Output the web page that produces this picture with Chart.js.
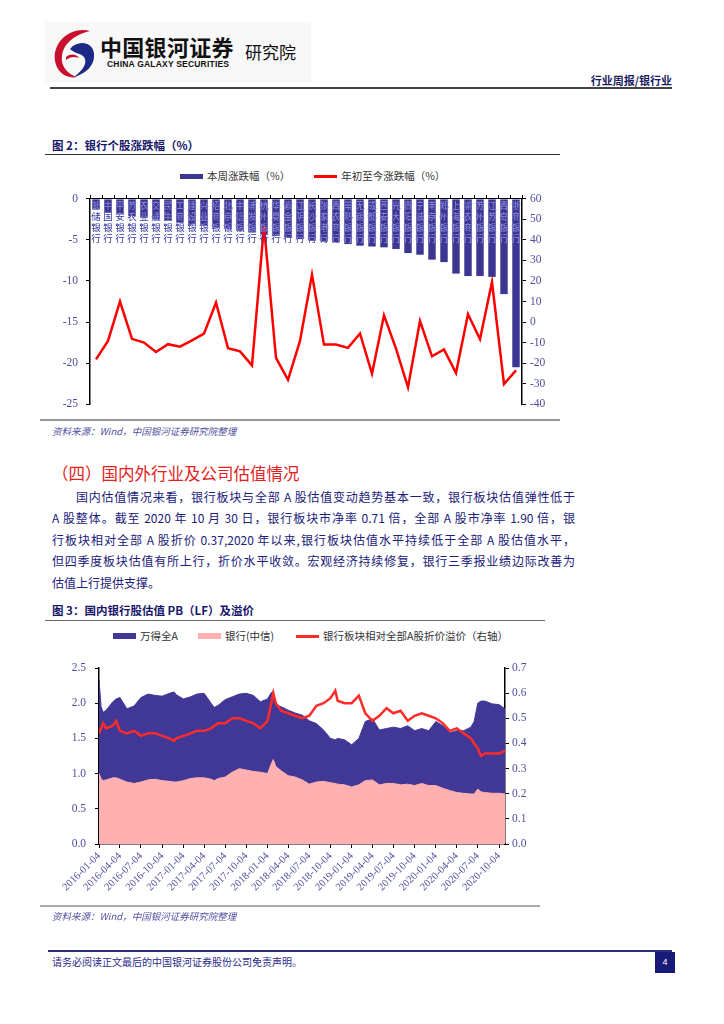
<!DOCTYPE html>
<html>
<head>
<meta charset="utf-8">
<script src="https://cdn.jsdelivr.net/npm/chart.js@4.4.0/dist/chart.umd.min.js"></script>
<style>
  body { margin: 0; width: 724px; height: 1024px; position: relative; background: #fff; overflow: hidden;
         font-family: "Noto Sans CJK SC", sans-serif; }
  .abs { position: absolute; white-space: nowrap; }
  .rule { position: absolute; height: 0; }
  .figtitle { font-size: 11.5px; font-weight: bold; color: #16166a; line-height: 14px; }
  .source { font-size: 9.5px; font-style: italic; color: #5050a0; line-height: 12px; }
  .legend { position: absolute; display: flex; align-items: center; font-size: 10.5px; color: #333; line-height: 14px; }
  .legend .sw { display: inline-block; width: 23px; margin-right: 4px; }
  .para { position: absolute; left: 52px; width: 523px; font-size: 12px; line-height: 16px; color: #20207a;
          text-align: justify; text-align-last: justify; white-space: nowrap; }
</style>
</head>
<body>

<!-- header -->
<div class="abs" style="left:45px;top:22px;width:266px;height:60px;background:#f8f8f8;"></div>
<svg class="abs" style="left:50px;top:27px" width="48" height="52" viewBox="0 0 48 52">
  <path d="M40 4 C20 -1 2 16 5 34 C7 46 17 52 27 50 C15 46 9 36 13 24 C17 13 28 7 40 4 Z" fill="#c8102e"/>
  <path d="M20 22 C27 13 43 14 44 27 C45 39 35 47 24 50 C33 43 38 36 34 30 C31 26 25 27 20 22 Z" fill="#1b2a86"/>
  <path d="M16 30 C20 26 27 27 29 31 C24 29 20 30 16 33 Z" fill="#c8102e"/>
</svg>
<div class="abs" style="left:100px;top:33px;font-size:22px;font-weight:bold;color:#111;line-height:26px;letter-spacing:0.3px">中国银河证券</div>
<div class="abs" style="left:107px;top:59px;font-size:8.5px;font-weight:bold;color:#111;line-height:10px;font-family:'Liberation Sans',sans-serif;letter-spacing:0.2px">CHINA GALAXY SECURITIES</div>
<div class="abs" style="left:245px;top:42px;font-size:17px;color:#111;line-height:20px">研究院</div>
<div class="abs" style="right:52px;top:73px;font-size:11px;font-weight:bold;color:#1a1a5e;line-height:14px">行业周报/银行业</div>
<div class="rule" style="left:50px;top:87px;width:622px;border-top:2px solid #444"></div>

<!-- figure 2 -->
<div class="abs figtitle" style="left:52px;top:138px">图&nbsp;2：银行个股涨跌幅（%）</div>
<div class="rule" style="left:45px;top:154px;width:515px;border-top:1.5px solid #333"></div>
<div class="legend" style="left:180px;top:169px">
  <span class="sw" style="height:5px;background:#3c3591"></span><span>本周涨跌幅（%）</span>
  <span class="sw" style="height:3px;background:#ff0000;margin-left:24px"></span><span>年初至今涨跌幅（%）</span>
</div>
<canvas id="c1" class="abs" style="left:40px;top:184px" width="520" height="235"></canvas>
<div class="rule" style="left:40px;top:419px;width:520px;border-top:2px solid #999"></div>
<div class="abs source" style="left:52px;top:425px">资料来源：Wind，中国银河证券研究院整理</div>

<!-- text -->
<div class="abs" style="left:52px;top:463px;font-size:16.5px;color:#e42121;line-height:20px">（四）国内外行业及公司估值情况</div>
<div class="para" style="top:489px;left:76px;width:499px">国内估值情况来看，银行板块与全部 A 股估值变动趋势基本一致，银行板块估值弹性低于</div>
<div class="para" style="top:510px">A 股整体。截至 2020 年 10 月 30 日，银行板块市净率 0.71 倍，全部 A 股市净率 1.90 倍，银</div>
<div class="para" style="top:532px">行板块相对全部 A 股折价 0.37,2020 年以来,银行板块估值水平持续低于全部 A 股估值水平，</div>
<div class="para" style="top:553px">但四季度板块估值有所上行，折价水平收敛。宏观经济持续修复，银行三季报业绩边际改善为</div>
<div class="para" style="top:575px;text-align:left;text-align-last:left">估值上行提供支撑。</div>

<!-- figure 3 -->
<div class="abs figtitle" style="left:52px;top:603px">图&nbsp;3：国内银行股估值 PB（LF）及溢价</div>
<div class="rule" style="left:45px;top:620px;width:500px;border-top:1px solid #666"></div>
<div class="legend" style="left:113px;top:629px">
  <span class="sw" style="height:6px;background:#403796"></span><span>万得全A</span>
  <span class="sw" style="height:6px;background:#ffb0b0;margin-left:20px"></span><span>银行(中信)</span>
  <span class="sw" style="height:3px;background:#ff2a2a;margin-left:22px"></span><span>银行板块相对全部A股折价溢价（右轴）</span>
</div>
<canvas id="c2" class="abs" style="left:40px;top:650px" width="505" height="256"></canvas>
<div class="rule" style="left:40px;top:905px;width:500px;border-top:2px solid #aaa"></div>
<div class="abs source" style="left:52px;top:910px">资料来源：Wind，中国银河证券研究院整理</div>

<!-- footer -->
<div class="rule" style="left:48px;top:950px;width:624px;border-top:2px solid #2a2a80"></div>
<div class="abs" style="left:52px;top:955px;font-size:10px;color:#2a2a8a;line-height:14px">请务必阅读正文最后的中国银河证券股份公司免责声明。</div>
<div class="abs" style="left:655px;top:952px;width:20px;height:21px;background:#1a1a78;color:#fff;font-size:9px;line-height:21px;text-align:center;font-family:'Liberation Sans',sans-serif">4</div>

<script>
// ---- 图2 数据 ----
const banks = ['邮储银行', '中国银行', '平安银行', '苏农银行', '农业银行', '交通银行', '民生银行', '工商银行',
    '建设银行', '兴业银行', '招商银行', '北京银行', '中信银行', '浦发银行', '杭州银行', '华夏银行', '紫金银行',
    '江阴银行', '长沙银行', '张家港行', '青农商行', '常熟银行', '无锡银行', '成都银行', '西安银行', '光大银行',
    '贵阳银行', '宁波银行', '南京银行', '郑州银行', '上海银行', '渝农商行', '苏州银行', '江苏银行', '青岛银行', '浙商银行'];
const weekChange = [-1.3, -1.6, -1.9, -2.1, -2.3, -2.5, -2.7, -2.9, -3.1, -3.3, -3.5, -3.7, -3.9, -4.1, -4.3, -4.5,
    -4.7, -4.9, -5.1, -5.2, -5.3, -5.5, -5.7, -5.8, -5.9, -6.1, -6.6, -6.8, -7.4, -7.7, -9.1, -9.4, -9.4, -9.5, -11.6, -20.5];
const ytdChange = [-18.2, -9.2, 10, -8.2, -10, -14.6, -10.8, -12, -8.9, -5.7, 9.5, -12.8, -14.3, -21.1, 46.9, -17.5,
    -28.2, -9.2, 23.1, -11, -11, -12.6, -5.6, -25.2, 3.3, -13, -31.8, 0.5, -16.7, -13.4, -24.9, 3.8, -8.4, 19.5, -30.2, -23.6];

// ---- 图3 数据 ----
const pbDates = ['2016-01-04', '2016-01-13', '2016-01-22', '2016-02-04', '2016-03-04', '2016-03-18', '2016-04-04',
    '2016-05-04', '2016-06-04', '2016-07-04', '2016-08-04', '2016-09-04', '2016-10-04', '2016-11-04', '2016-11-25',
    '2016-12-04', '2017-01-04', '2017-02-04', '2017-03-04', '2017-04-04', '2017-05-04', '2017-05-18', '2017-06-04',
    '2017-07-04', '2017-08-04', '2017-09-04', '2017-10-04', '2017-11-04', '2017-12-04', '2018-01-04', '2018-01-18',
    '2018-01-29', '2018-02-09', '2018-03-04', '2018-04-04', '2018-05-04', '2018-06-04', '2018-07-04', '2018-08-04',
    '2018-09-04', '2018-10-04', '2018-10-25', '2018-11-04', '2018-12-04', '2019-01-04', '2019-02-04', '2019-03-04',
    '2019-04-04', '2019-05-04', '2019-06-04', '2019-07-04', '2019-08-04', '2019-09-04', '2019-10-04', '2019-11-04',
    '2019-12-04', '2020-01-04', '2020-02-04', '2020-03-04', '2020-04-04', '2020-05-04', '2020-06-04', '2020-06-18',
    '2020-07-04', '2020-07-18', '2020-08-04', '2020-09-04', '2020-10-04', '2020-10-30'];
const pbAllA = [2.34, 1.95, 1.87, 1.90, 2.02, 2.06, 2.08, 1.92, 1.96, 2.08, 2.13, 2.11, 2.10, 2.14, 2.16, 2.12,
    2.06, 2.09, 2.13, 2.14, 2.00, 1.94, 1.97, 2.05, 2.09, 2.13, 2.14, 2.11, 2.02, 2.06, 2.14, 2.17, 1.98, 1.95,
    1.90, 1.86, 1.83, 1.75, 1.71, 1.62, 1.50, 1.48, 1.50, 1.48, 1.41, 1.50, 1.74, 1.78, 1.62, 1.64, 1.66, 1.64,
    1.68, 1.61, 1.64, 1.61, 1.74, 1.68, 1.58, 1.61, 1.61, 1.66, 1.74, 2.00, 2.03, 2.03, 1.99, 1.98, 1.92];
const pbBank = [1.00, 0.93, 0.90, 0.91, 0.94, 0.94, 0.92, 0.88, 0.86, 0.88, 0.91, 0.92, 0.90, 0.89, 0.88, 0.88,
    0.90, 0.93, 0.94, 0.94, 0.92, 0.90, 0.93, 0.95, 1.02, 1.07, 1.05, 1.03, 1.02, 1.00, 1.12, 1.20, 1.10, 1.04,
    0.97, 0.95, 0.91, 0.85, 0.88, 0.89, 0.87, 0.86, 0.85, 0.84, 0.81, 0.84, 0.90, 0.91, 0.84, 0.86, 0.86, 0.84,
    0.85, 0.83, 0.86, 0.83, 0.83, 0.79, 0.76, 0.73, 0.72, 0.71, 0.71, 0.78, 0.74, 0.73, 0.72, 0.72, 0.71];
const pbPremium = [0.44, 0.46, 0.48, 0.46, 0.47, 0.49, 0.45, 0.44, 0.45, 0.43, 0.44, 0.44, 0.43, 0.42, 0.41, 0.42,
    0.43, 0.44, 0.45, 0.45, 0.46, 0.47, 0.48, 0.48, 0.50, 0.50, 0.49, 0.48, 0.46, 0.49, 0.55, 0.60, 0.56, 0.53,
    0.52, 0.51, 0.50, 0.51, 0.55, 0.56, 0.58, 0.61, 0.57, 0.56, 0.56, 0.59, 0.52, 0.49, 0.51, 0.54, 0.52, 0.53,
    0.49, 0.51, 0.52, 0.51, 0.50, 0.48, 0.45, 0.46, 0.44, 0.42, 0.40, 0.38, 0.35, 0.36, 0.36, 0.36, 0.37];
const quarterTicks = ['2016-01-04', '2016-04-04', '2016-07-04', '2016-10-04', '2017-01-04', '2017-04-04', '2017-07-04',
    '2017-10-04', '2018-01-04', '2018-04-04', '2018-07-04', '2018-10-04', '2019-01-04', '2019-04-04', '2019-07-04',
    '2019-10-04', '2020-01-04', '2020-04-04', '2020-07-04', '2020-10-04'];
const lastDate = '2020-10-30';

const tickColor = '#4d4d9e';
const numFont = { family: 'Liberation Serif', size: 11.5 };
const dayOf = d => (Date.parse(d) - Date.parse(pbDates[0])) / 86400000;

// vertical bank names, lighter where they sit on top of a bar
const barNames = {
    id: 'barNames',
    afterDatasetsDraw(chart) {
        const ctx = chart.ctx;
        const bars = chart.getDatasetMeta(1).data;
        const y0 = chart.scales.y.getPixelForValue(0) + 2;
        const drawName = (name, x) => [...name].forEach((ch, k) => ctx.fillText(ch, x, y0 + k * 10.8));
        ctx.save();
        ctx.font = '9.5px "Noto Sans CJK SC"';
        ctx.textAlign = 'center';
        ctx.textBaseline = 'top';
        banks.forEach((name, i) => {
            const bar = bars[i];
            ctx.fillStyle = '#3434a2';
            drawName(name, bar.x);
            ctx.save();
            ctx.beginPath();
            ctx.rect(bar.x - bar.width / 2, bar.base, bar.width, bar.y - bar.base);
            ctx.clip();
            ctx.fillStyle = '#8f8fd6';
            drawName(name, bar.x);
            ctx.restore();
        });
        ctx.restore();
    }
};

function axisGrid() {
    return { display: true, drawOnChartArea: false, drawTicks: true, tickLength: 4, color: '#000' };
}

new Chart(document.getElementById('c1'), {
    type: 'bar',
    data: {
        labels: banks,
        datasets: [
            { type: 'line', label: '年初至今涨跌幅（%）', data: ytdChange, yAxisID: 'y1', borderColor: '#ff0000',
              borderWidth: 2.5, pointRadius: 0, tension: 0, order: 0 },
            { type: 'bar', label: '本周涨跌幅（%）', data: weekChange, yAxisID: 'y', backgroundColor: '#3c3591',
              barPercentage: 0.62, categoryPercentage: 1, order: 1 }
        ]
    },
    options: {
        responsive: false,
        animation: false,
        layout: { padding: { top: 4, bottom: 13, left: 0, right: 0 } },
        plugins: { legend: { display: false }, tooltip: { enabled: false } },
        scales: {
            x: {
                position: 'top',
                ticks: { display: false },
                grid: axisGrid(),
                border: { display: true, color: '#000', width: 1 },
                afterFit: s => { s.height = 4; }
            },
            y: {
                min: -25, max: 0,
                ticks: { stepSize: 5, color: tickColor, font: numFont, padding: 8 },
                grid: axisGrid(),
                border: { display: true, color: '#000', width: 1.5 },
                afterFit: s => { s.width = 50; }
            },
            y1: {
                position: 'right',
                min: -40, max: 60,
                ticks: { stepSize: 10, color: tickColor, font: numFont, padding: 4 },
                grid: axisGrid(),
                border: { display: true, color: '#000', width: 1.5 },
                afterFit: s => { s.width = 38; }
            }
        }
    },
    plugins: [barNames]
});

const tickDays = quarterTicks.map(dayOf);
const toPoints = vals => pbDates.map((d, i) => ({ x: dayOf(d), y: vals[i] }));

new Chart(document.getElementById('c2'), {
    type: 'line',
    data: {
        datasets: [
            { label: '银行板块相对全部A股折价溢价（右轴）', data: toPoints(pbPremium), yAxisID: 'y1',
              borderColor: '#ff2a2a', borderWidth: 2.5, pointRadius: 0, tension: 0, fill: false, order: 0 },
            { label: '银行(中信)', data: toPoints(pbBank), yAxisID: 'y', borderColor: '#ffb0b0', borderWidth: 1,
              backgroundColor: '#ffb0b0', pointRadius: 0, tension: 0, fill: 'origin', order: 1 },
            { label: '万得全A', data: toPoints(pbAllA), yAxisID: 'y', borderColor: '#403796', borderWidth: 1,
              backgroundColor: '#403796', pointRadius: 0, tension: 0, fill: 'origin', order: 2 }
        ]
    },
    options: {
        responsive: false,
        animation: false,
        layout: { padding: { top: 18, bottom: 0, left: 0, right: 0 } },
        plugins: { legend: { display: false }, tooltip: { enabled: false } },
        scales: {
            x: {
                type: 'linear',
                min: 0, max: dayOf(lastDate),
                afterBuildTicks: s => { s.ticks = tickDays.map(v => ({ value: v })); },
                ticks: {
                    autoSkip: false, minRotation: 45, maxRotation: 45, padding: 2,
                    color: tickColor, font: { family: 'Liberation Serif', size: 10.5 },
                    callback: v => quarterTicks[tickDays.indexOf(v)] || ''
                },
                grid: axisGrid(),
                border: { display: true, color: '#000', width: 1.5 },
                afterFit: s => { s.height = 62; }
            },
            y: {
                min: 0, max: 2.5,
                ticks: { stepSize: 0.5, color: tickColor, font: numFont, padding: 9, callback: v => v.toFixed(1) },
                grid: axisGrid(),
                border: { display: true, color: '#000', width: 1.5 },
                afterFit: s => { s.width = 59; }
            },
            y1: {
                position: 'right',
                min: 0, max: 0.7,
                ticks: { stepSize: 0.1, color: tickColor, font: numFont, padding: 3, callback: v => v.toFixed(1) },
                grid: axisGrid(),
                border: { display: true, color: '#000', width: 1.5 },
                afterFit: s => { s.width = 40; }
            }
        }
    }
});
</script>
</body>
</html>
